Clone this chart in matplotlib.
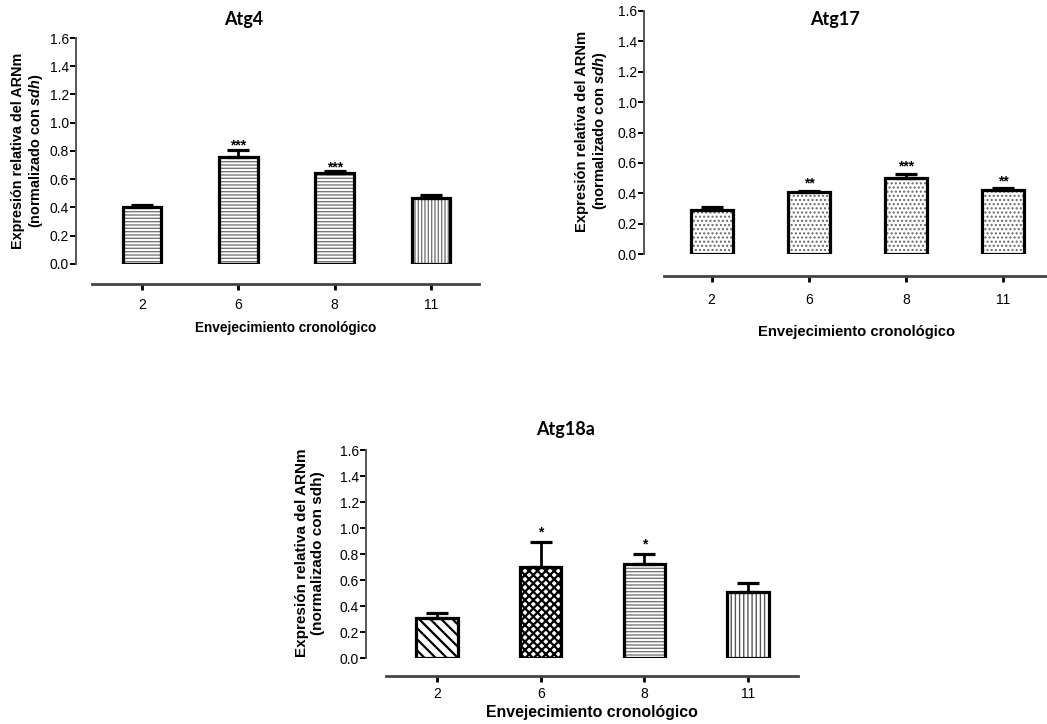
import matplotlib
matplotlib.use("Agg")
import matplotlib.pyplot as plt
import numpy as np

plt.rcParams['font.family'] = ['Liberation Sans', 'DejaVu Sans']
plt.rcParams['mathtext.fontset'] = 'custom'
plt.rcParams['mathtext.it'] = 'Liberation Sans:italic:bold'
plt.rcParams['mathtext.rm'] = 'Liberation Sans:bold'
plt.rcParams['hatch.linewidth'] = 1.0

dias = ["2", "6", "8", "11"]

atg4 = [0.40, 0.76, 0.645, 0.47]
atg4_err = [0.02, 0.05, 0.012, 0.015]
atg4_sig = ["", "***", "***", ""]

atg17 = [0.29, 0.41, 0.50, 0.42]
atg17_err = [0.02, 0.006, 0.03, 0.015]
atg17_sig = ["", "**", "***", "**"]

atg18a = [0.31, 0.70, 0.72, 0.51]
atg18a_err = [0.04, 0.19, 0.08, 0.07]
atg18a_sig = ["", "*", "*", ""]

ylab1 = "Expresión relativa del ARNm\n(normalizado con $\\mathit{sdh}$)"
ylab3 = "Expresión relativa del ARNm\n(normalizado con sdh)"
xlab = "Envejecimiento cronológico"

W, H = 1047, 724
fig = plt.figure(figsize=(W / 100, H / 100), dpi=100)


def px(x0, y0, x1, y1):
    # pixel box (left, top of data, right, y of zero) -> fig fraction
    return [x0 / W, 1 - y1 / H, (x1 - x0) / W, (y1 - y0) / H]


def panel(rect, vals, errs, sig, hatches, hcolors, hlw, width, xlim,
          left_out, bot_out, tick_pad, star_off):
    ax = fig.add_axes(rect)
    x = np.arange(len(vals))
    # hatch layer first, then black outline on top
    for i in range(len(vals)):
        b = ax.bar(x[i], vals[i], width, color="white", edgecolor=hcolors[i],
                   hatch=hatches[i], linewidth=0, zorder=2)
        for p in b:
            if hasattr(p, "set_hatch_linewidth"):
                p.set_hatch_linewidth(hlw[i])
    ax.bar(x, vals, width, fill=False, edgecolor="black", linewidth=2.3,
           zorder=3)
    ax.errorbar(x, vals, yerr=[np.zeros(len(vals)), errs], fmt="none",
                ecolor="black", elinewidth=2, capsize=8, capthick=2.3,
                zorder=4)
    for i, s in enumerate(sig):
        if s:
            ax.annotate(s, (x[i], vals[i] + errs[i]), xytext=(0, star_off),
                        textcoords="offset points", ha="center", va="center",
                        fontsize=10, fontweight="bold", zorder=5)
    ax.set_xlim(*xlim)
    ax.set_ylim(0, 1.6)
    ax.set_yticks(np.arange(0, 1.61, 0.2))
    ax.set_yticklabels([f"{v:.1f}" for v in np.arange(0, 1.61, 0.2)],
                       fontsize=9, fontweight="bold", color="#111111")
    ax.set_xticks(x)
    ax.set_xticklabels(dias, fontsize=9, fontweight="bold", color="#222222")
    for side in ["top", "right"]:
        ax.spines[side].set_visible(False)
    ax.spines["left"].set_position(("outward", left_out))
    ax.spines["left"].set_bounds(0, 1.6)
    ax.spines["left"].set_color("#555555")
    ax.spines["left"].set_linewidth(1.4)
    ax.spines["bottom"].set_position(("outward", bot_out))
    ax.spines["bottom"].set_color("#444444")
    ax.spines["bottom"].set_linewidth(2.0)
    ax.tick_params(axis="y", length=4, width=1.4, pad=1)
    ax.tick_params(axis="x", length=4, width=2, pad=tick_pad)
    ax.patch.set_visible(False)
    return ax


# Atg4
panel(px(92, 38, 479, 264), atg4, atg4_err, atg4_sig,
      ["-----", "-----", "-----", "|||||"], ["#777777"] * 4, [1.0] * 4,
      0.40, (-0.52, 3.5), 11.5, 14.4, 6, 3)
fig.text(244 / W, 1 - 20 / H, "Atg4", ha="center", va="center",
         fontsize=13, fontweight="bold", family="Lato")
fig.text(28 / W, 1 - 151 / H, ylab1, rotation=90, ha="center", va="center",
         multialignment="center", fontsize=10.4, fontweight="bold",
         linespacing=1.1)
fig.text(286 / W, 1 - 328 / H, xlab, ha="center", va="center",
         fontsize=9.8, fontweight="bold")

# Atg17
panel(px(664, 11, 1052, 254), atg17, atg17_err, atg17_sig,
      ["....", "....", "....", "...."], ["#666666"] * 4, [1.0] * 4,
      0.43, (-0.49, 3.5), 14.4, 15.8, 8, 5)
fig.text(835 / W, 1 - 20 / H, "Atg17", ha="center", va="center",
         fontsize=13, fontweight="bold", family="Lato")
fig.text(592 / W, 1 - 131 / H, ylab1, rotation=90, ha="center", va="center",
         multialignment="center", fontsize=10.6, fontweight="bold",
         linespacing=1.1)
fig.text(857 / W, 1 - 332 / H, xlab, ha="center", va="center",
         fontsize=10.6, fontweight="bold")

# Atg18a
panel(px(386, 450, 798, 658), atg18a, atg18a_err, atg18a_sig,
      ["\\\\\\", "xxxx", "-----", "||||"],
      ["black", "black", "#777777", "#555555"], [1.6, 1.6, 1.0, 1.0],
      0.40, (-0.49, 3.48), 14.4, 13, 4, 7)
fig.text(566 / W, 1 - 430 / H, "Atg18a", ha="center", va="center",
         fontsize=13, fontweight="bold", family="Lato")
fig.text(310 / W, 1 - 553 / H, ylab3, rotation=90, ha="center", va="center",
         multialignment="center", fontsize=11, fontweight="bold",
         linespacing=1.1)
fig.text(592 / W, 1 - 713 / H, xlab, ha="center", va="center",
         fontsize=11.4, fontweight="bold")

fig.savefig("out.png", dpi=100)
